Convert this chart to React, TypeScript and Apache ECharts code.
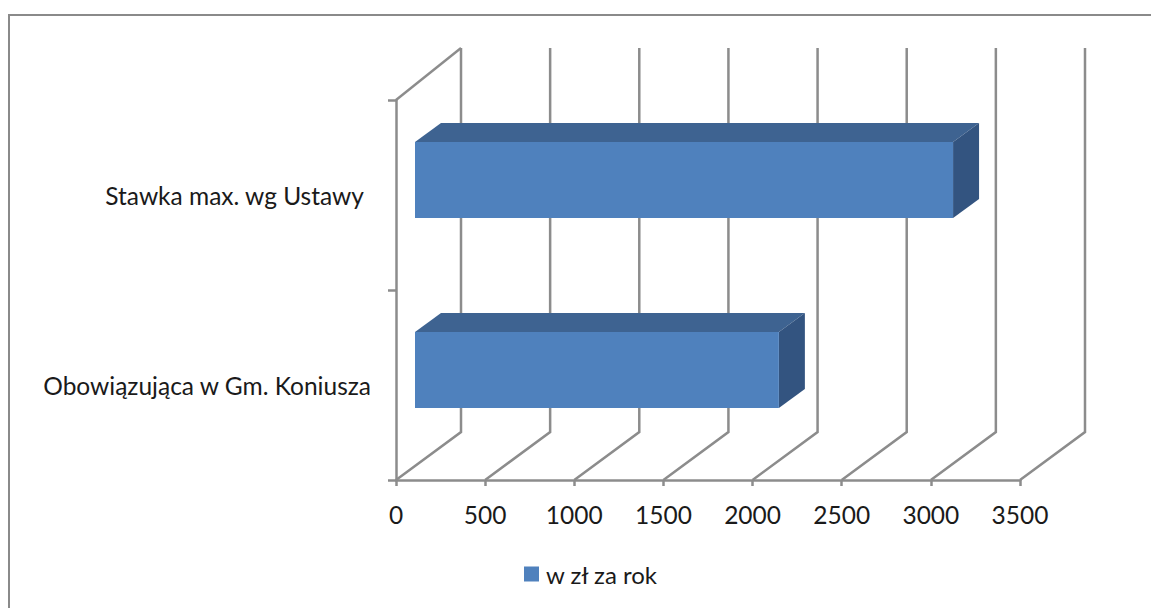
import React, { useEffect, useRef } from "react";
import * as echarts from "echarts";

const categories = ["Obowiązująca w Gm. Koniusza", "Stawka max. wg Ustawy"];
const seriesName = "w zł za rok";
const seriesValues = [2041, 3018];
const axisTicks = [0, 500, 1000, 1500, 2000, 2500, 3000, 3500];

const FONT = "Lato";
const GREY = "#8c8c8c";
const LINE = 2.5;

export default function App() {
  const ref = useRef<HTMLDivElement>(null);
  useEffect(() => {
    const chart = echarts.init(ref.current!, undefined, { renderer: "svg" });
    chart.setOption({
      animation: false,
      backgroundColor: "#ffffff",
      grid: { left: 396, top: 100, width: 624, height: 380, containLabel: false },
      graphic: [
        {
          type: "polyline",
          silent: true,
          shape: { points: [[9, 608], [9, 15], [1151, 15]] },
          style: { stroke: "#8a8a8a", lineWidth: 2, fill: "none" },
        },
      ],
      legend: {
        data: [seriesName],
        left: 519,
        top: 557,
        icon: "rect",
        itemWidth: 15,
        itemHeight: 15,
        textStyle: { fontFamily: FONT, fontSize: 24, color: "#1a1a1a", padding: [0, 0, 0, 2] },
      },
      xAxis: {
        type: "value",
        min: 0,
        max: 3500,
        interval: 500,
        splitLine: { show: false },
        axisLine: { show: true, lineStyle: { color: GREY, width: LINE } },
        axisTick: { show: true, length: 6, lineStyle: { color: GREY, width: LINE } },
        axisLabel: {
          margin: 22,
          fontFamily: FONT,
          fontSize: 24.5,
          color: "#1a1a1a",
          hideOverlap: false,
          showMinLabel: true,
          showMaxLabel: true,
          formatter: (v: number) => String(v),
        },
      },
      yAxis: {
        type: "category",
        data: categories,
        boundaryGap: true,
        axisLine: { show: true, lineStyle: { color: GREY, width: LINE } },
        axisTick: { show: true, length: 8, alignWithLabel: false, lineStyle: { color: GREY, width: LINE } },
        axisLabel: {
          margin: 25,
          interval: 0,
          fontFamily: FONT,
          fontSize: 24.5,
          color: "#1a1a1a",
          formatter: (v: string, i: number) => (i === 1 ? `{a|${v}}` : `{b|${v}}`),
          rich: {
            a: { fontFamily: FONT, fontSize: 24.5, color: "#1a1a1a", padding: [0, 7, 0, 0] },
            b: { fontFamily: FONT, fontSize: 24.5, color: "#1a1a1a" },
          },
        },
      },
      series: [
        {
          type: "custom",
          name: "walls",
          silent: true,
          z: 1,
          coordinateSystem: "cartesian2d",
          data: axisTicks.map((t) => [t, 0]),
          renderItem: (params: any, api: any) => {
            const v = api.value(0);
            const cs = params.coordSys;
            const x = api.coord([v, 0])[0];
            const bottom = cs.y + cs.height;
            const top = cs.y;
            const style = { stroke: GREY, lineWidth: LINE, fill: "none" };
            const children: any[] = [
              {
                type: "polyline",
                shape: { points: [[x, bottom], [x + 65, bottom - 48], [x + 65, top - 52]] },
                style,
              },
            ];
            if (v === 0) {
              children.push({
                type: "line",
                shape: { x1: x, y1: top, x2: x + 65, y2: top - 52 },
                style,
              });
            }
            return { type: "group", children };
          },
        },
        {
          type: "custom",
          name: seriesName,
          z: 3,
          coordinateSystem: "cartesian2d",
          itemStyle: { color: "#4F81BD" },
          data: seriesValues.map((v, i) => [v, i]),
          renderItem: (_params: any, api: any) => {
            const value = api.value(0);
            const cat = api.value(1);
            const start = api.coord([0, cat]);
            const end = api.coord([value, cat]);
            const x0 = start[0] + 19;
            const x1 = end[0] + 19;
            const yT = start[1] - 53;
            const yB = start[1] + 23;
            const dx = 26;
            const dy = 19;
            return {
              type: "group",
              children: [
                {
                  type: "polygon",
                  shape: { points: [[x0, yT], [x0 + dx, yT - dy], [x1 + dx, yT - dy], [x1, yT]] },
                  style: { fill: "#3E6391" },
                },
                {
                  type: "polygon",
                  shape: { points: [[x1, yT], [x1 + dx, yT - dy], [x1 + dx, yB - dy], [x1, yB]] },
                  style: { fill: "#335480" },
                },
                {
                  type: "rect",
                  shape: { x: x0, y: yT, width: x1 - x0, height: yB - yT },
                  style: { fill: "#4F81BD" },
                },
              ],
            };
          },
        },
      ],
    });
    return () => chart.dispose();
  }, []);
  return (
    <div
      ref={ref}
      style={{ position: "fixed", left: 0, top: 0, width: 1151, height: 608 }}
    />
  );
}
